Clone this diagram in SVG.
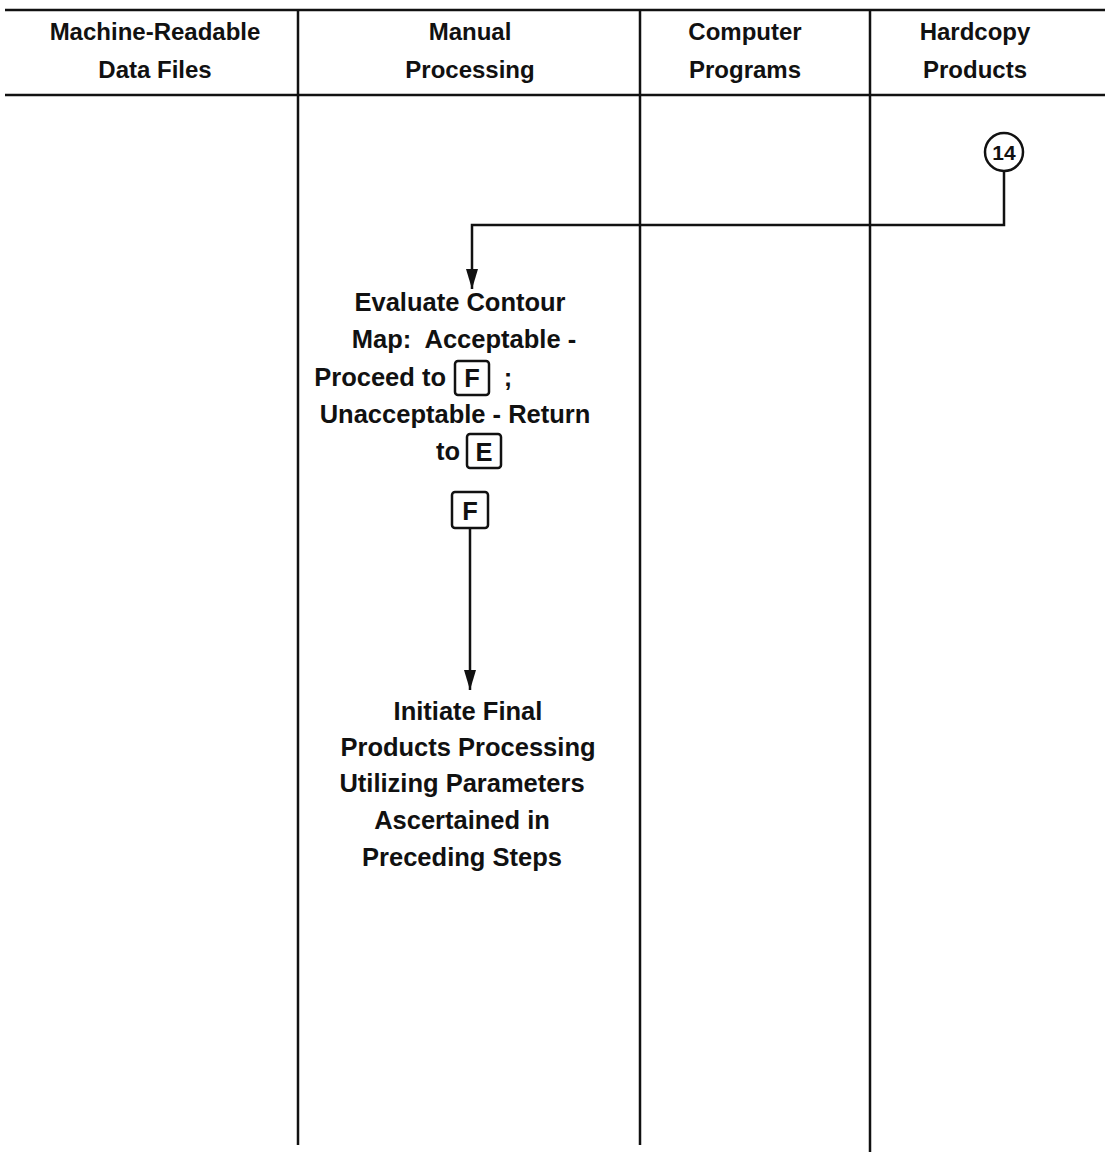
<svg xmlns="http://www.w3.org/2000/svg" width="1110" height="1152" viewBox="0 0 1110 1152">
<defs>
<style>
.t{font-family:"Liberation Sans",Arial,sans-serif;font-weight:bold;font-size:24px;fill:#111;text-anchor:middle;white-space:pre}
.b{font-size:25.5px}
.e{text-anchor:end}
.ln{stroke:#111;stroke-width:2.5;fill:none}
.bx{stroke:#111;stroke-width:2.5;fill:none}
</style>
<marker id="arr" markerWidth="20" markerHeight="12" refX="20" refY="6" orient="auto" markerUnits="userSpaceOnUse">
<path d="M0,0 L20,6 L0,12 Z" fill="#111"/>
</marker>
</defs>
<rect width="1110" height="1152" fill="#fff"/>
<g id="grid">
<line class="ln" x1="5" y1="10" x2="1105" y2="10"/>
<line class="ln" x1="5" y1="95" x2="1105" y2="95"/>
<line class="ln" x1="298" y1="10" x2="298" y2="1145"/>
<line class="ln" x1="640" y1="10" x2="640" y2="1145"/>
<line class="ln" x1="870" y1="10" x2="870" y2="1152"/>
</g>
<g id="headers">
<text class="t" x="155" y="40">Machine-Readable</text>
<text class="t" x="155" y="78">Data Files</text>
<text class="t" x="470" y="40">Manual</text>
<text class="t" x="470" y="78">Processing</text>
<text class="t" x="745" y="40">Computer</text>
<text class="t" x="745" y="78">Programs</text>
<text class="t" x="975" y="40">Hardcopy</text>
<text class="t" x="975" y="78">Products</text>
</g>
<g id="connectors">
<path class="ln" d="M1004,171 L1004,225 L472,225 L472,289" marker-end="url(#arr)"/>
<path class="ln" d="M470,528 L470,690" marker-end="url(#arr)"/>
</g>
<g id="node14">
<circle class="ln" cx="1004" cy="152" r="19"/>
<text class="t" x="1004" y="160" style="font-size:21px">14</text>
</g>
<g id="evaluate">
<text class="t b" x="460" y="311">Evaluate Contour</text>
<text class="t b" x="464" y="348">Map:  Acceptable -</text>
<text class="t b e" x="446" y="386">Proceed to</text>
<rect class="bx" x="455" y="361" width="34" height="34" rx="3"/>
<text class="t b" x="472" y="387">F</text>
<text class="t b" x="508" y="386">;</text>
<text class="t b" x="455" y="423">Unacceptable - Return</text>
<text class="t b e" x="460" y="460">to</text>
<rect class="bx" x="467" y="434" width="34" height="34" rx="3"/>
<text class="t b" x="484" y="461">E</text>
</g>
<g id="connectorF">
<rect class="bx" x="452" y="492" width="36" height="36" rx="3"/>
<text class="t b" x="470" y="520">F</text>
</g>
<g id="initiate">
<text class="t b" x="468" y="720">Initiate Final</text>
<text class="t b" x="468" y="756">Products Processing</text>
<text class="t b" x="462" y="792">Utilizing Parameters</text>
<text class="t b" x="462" y="829">Ascertained in</text>
<text class="t b" x="462" y="866">Preceding Steps</text>
</g>
</svg>
